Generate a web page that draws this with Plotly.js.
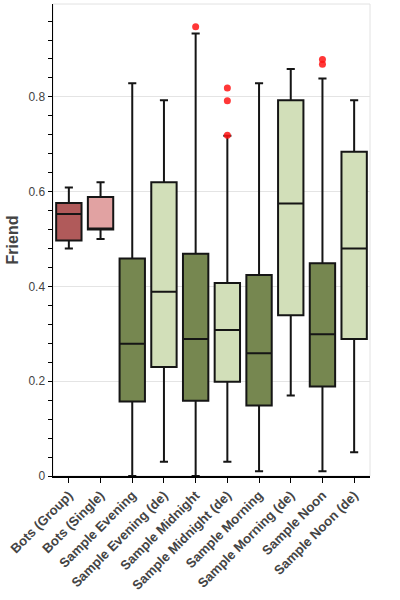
<!DOCTYPE html>
<html>
<head>
<meta charset="utf-8">
<script src="https://cdn.plot.ly/plotly-3.0.1.min.js"></script>
<style>
  html, body { margin: 0; padding: 0; background: #fff; }
  #chart { width: 400px; height: 600px; }
</style>
</head>
<body>
<div id="chart"></div>
<script>
// Box statistics per sample group
const categories = [
  'Bots (Group)', 'Bots (Single)', 'Sample Evening', 'Sample Evening (de)',
  'Sample Midnight', 'Sample Midnight (de)', 'Sample Morning', 'Sample Morning (de)',
  'Sample Noon', 'Sample Noon (de)'
];
const lowerWhisker = [0.48, 0.50, 0.00, 0.03, 0.00, 0.03, 0.01, 0.17, 0.01, 0.05];
const q1Values     = [0.497, 0.52, 0.157, 0.23, 0.159, 0.199, 0.149, 0.339, 0.189, 0.289];
const medianValues = [0.553, 0.52, 0.279, 0.389, 0.289, 0.308, 0.259, 0.575, 0.299, 0.48];
const q3Values     = [0.576, 0.589, 0.459, 0.62, 0.469, 0.407, 0.424, 0.793, 0.449, 0.684];
const upperWhisker = [0.609, 0.62, 0.829, 0.793, 0.934, 0.718, 0.829, 0.859, 0.839, 0.793];
const boxColors = [
  '#b05a5a', '#e1a2a2', '#768750', '#d2dfb9', '#768750',
  '#d2dfb9', '#768750', '#d2dfb9', '#768750', '#d2dfb9'
];

// Outlying observations
const outlierCategories = ['Sample Midnight', 'Sample Midnight (de)', 'Sample Midnight (de)',
  'Sample Midnight (de)', 'Sample Noon', 'Sample Noon'];
const outlierValues = [0.948, 0.819, 0.792, 0.719, 0.879, 0.869];

const traces = categories.map((cat, i) => ({
  type: 'box',
  x: [cat],
  q1: [q1Values[i]],
  median: [medianValues[i]],
  q3: [q3Values[i]],
  lowerfence: [lowerWhisker[i]],
  upperfence: [upperWhisker[i]],
  width: 0.8,
  whiskerwidth: 0.32,
  fillcolor: boxColors[i],
  line: { color: '#151515', width: 2 },
  boxpoints: false,
  hoverinfo: 'skip',
  showlegend: false
}));

traces.push({
  type: 'scatter',
  mode: 'markers',
  x: outlierCategories,
  y: outlierValues,
  marker: { color: 'rgba(255,20,20,0.85)', size: 7 },
  hoverinfo: 'skip',
  showlegend: false
});

const layout = {
  width: 400,
  height: 600,
  margin: { l: 53, r: 30, t: 4, b: 124 },
  paper_bgcolor: '#fff',
  plot_bgcolor: '#fff',
  boxmode: 'overlay',
  font: { family: 'Liberation Sans, Arial, sans-serif', color: '#444' },
  xaxis: {
    type: 'category',
    categoryorder: 'array',
    categoryarray: categories,
    range: [-0.5, 9.5],
    showline: true,
    linecolor: '#000',
    linewidth: 1.5,
    ticks: 'outside',
    ticklen: 5,
    tickcolor: '#000',
    tickwidth: 1,
    tickangle: -45,
    tickfont: { size: 13.2, color: '#444', family: 'Liberation Sans, Arial, sans-serif', weight: 'bold' },
    showgrid: false,
    zeroline: false,
    fixedrange: true
  },
  yaxis: {
    range: [0, 0.996],
    tick0: 0,
    dtick: 0.2,
    showline: true,
    linecolor: '#000',
    linewidth: 1.5,
    ticks: 'outside',
    ticklen: 4,
    tickcolor: '#000',
    tickfont: { size: 12, color: '#444' },
    minor: { dtick: 0.04, ticks: 'outside', ticklen: 4, tickcolor: '#000', showgrid: false },
    showgrid: true,
    gridcolor: '#e4e4e4',
    gridwidth: 1,
    zeroline: false,
    title: { text: 'Friend', font: { size: 16, color: '#444', weight: 'bold' }, standoff: 6 }
  },
  shapes: [{
    type: 'rect', xref: 'paper', yref: 'paper', x0: 0, x1: 1, y0: 0, y1: 1,
    line: { color: '#e2e2e2', width: 1 }, layer: 'below'
  }]
};

Plotly.newPlot('chart', traces, layout, { displayModeBar: false, staticPlot: true });
</script>
</body>
</html>
